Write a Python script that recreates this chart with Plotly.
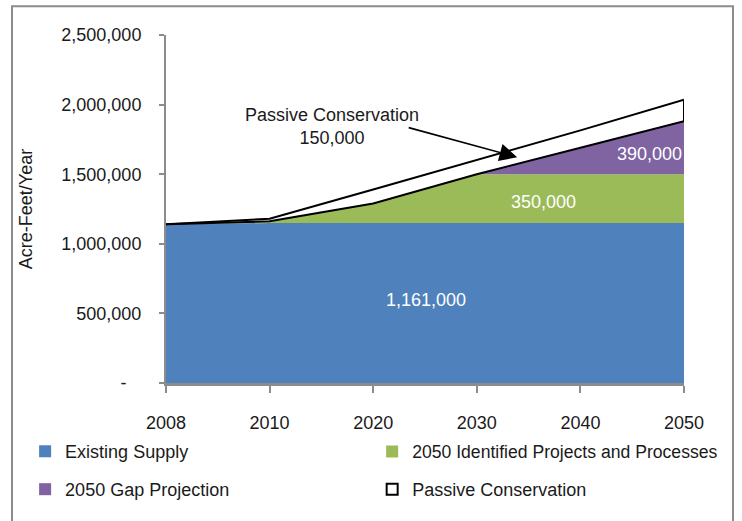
import plotly.graph_objects as go

years = ["2008", "2010", "2020", "2030", "2040", "2050"]
existing_supply = [1140000, 1150000, 1150000, 1150000, 1150000, 1150000]
identified_projects = [0, 12000, 140000, 350000, 350000, 350000]
gap_projection = [0, 0, 0, 0, 190000, 380000]
passive_conservation = [0, 18000, 100000, 100000, 125000, 155000]

y_tick_vals = [0, 500000, 1000000, 1500000, 2000000, 2500000]
y_tick_text = ["-\u00a0\u00a0\u00a0", "500,000", "1,000,000", "1,500,000", "2,000,000", "2,500,000"]

label_existing = "1,161,000"
label_identified = "350,000"
label_gap = "390,000"
label_passive = "Passive Conservation<br>150,000"

BLUE = "#4F81BD"
GREEN = "#9BBB59"
PURPLE = "#8064A2"
AXIS_GRAY = "#8C8C8C"
TXT = "#1a1a1a"
FONT = "Liberation Sans, Arial, sans-serif"

fig = go.Figure()

fig.add_trace(go.Scatter(x=years, y=existing_supply, stackgroup="s", mode="lines",
                         line=dict(width=0, color=BLUE), fillcolor=BLUE,
                         showlegend=False, hoverinfo="skip"))
fig.add_trace(go.Scatter(x=years, y=identified_projects, stackgroup="s", mode="lines",
                         line=dict(width=0, color=GREEN), fillcolor=GREEN,
                         showlegend=False, hoverinfo="skip"))
fig.add_trace(go.Scatter(x=years, y=gap_projection, stackgroup="s", mode="lines",
                         line=dict(width=2, color="black"), fillcolor=PURPLE,
                         showlegend=False, hoverinfo="skip"))
fig.add_trace(go.Scatter(x=years, y=passive_conservation, stackgroup="s", mode="lines",
                         line=dict(width=2, color="black"), fillcolor="white",
                         showlegend=False, hoverinfo="skip"))

# right edge of the passive conservation band
lower_top = existing_supply[-1] + identified_projects[-1] + gap_projection[-1]
upper_top = lower_top + passive_conservation[-1]
fig.add_trace(go.Scatter(x=[years[-1], years[-1]], y=[lower_top, upper_top], mode="lines",
                         line=dict(width=2, color="black"), showlegend=False, hoverinfo="skip"))

# legend entries
legend_specs = [
    ("Existing Supply", dict(symbol="square", color=BLUE, size=12), "legend"),
    ("2050 Identified Projects and Processes", dict(symbol="square", color=GREEN, size=12), "legend2"),
    ("2050 Gap Projection", dict(symbol="square", color=PURPLE, size=12), "legend3"),
    ("Passive Conservation", dict(symbol="square-open", color="black", size=11, line=dict(width=2)), "legend4"),
]
for name, mk, lg in legend_specs:
    fig.add_trace(go.Scatter(x=[None], y=[None], mode="markers", name=name, marker=mk,
                             legend=lg, showlegend=True))

def leg(x, y, size=18):
    return dict(font=dict(family=FONT, size=size, color=TXT), bgcolor="rgba(0,0,0,0)",
                xanchor="left", yanchor="middle", orientation="v", x=x, y=y)

fig.update_layout(
    legend=leg(-0.272, -0.197),
    legend2=leg(0.398, -0.197, 17.6),
    legend3=leg(-0.272, -0.306),
    legend4=leg(0.398, -0.306),
)

# annotations (data labels)
ann_font = dict(family=FONT, size=18, color="white")
fig.add_annotation(x=2.507, y=597000, xref="x", yref="y", text=label_existing,
                   showarrow=False, font=ann_font)
fig.add_annotation(x=3.64, y=1303000, xref="x", yref="y", text=label_identified,
                   showarrow=False, font=ann_font)
fig.add_annotation(x=4.665, y=1645000, xref="x", yref="y", text=label_gap,
                   showarrow=False, font=ann_font)
fig.add_annotation(x=1.602, y=1842000, xref="x", yref="y", text=label_passive,
                   showarrow=False, font=dict(family=FONT, size=18, color=TXT))
fig.add_annotation(x=3.39, y=1622000, xref="x", yref="y", text="",
                   showarrow=True, arrowhead=2, arrowsize=2.2, arrowwidth=1.6,
                   arrowcolor="black", ax=-110, ay=-30, standoff=0, startstandoff=0)

# outer frame
fig.add_shape(type="rect", xref="paper", yref="paper",
              x0=-0.2973, x1=1.0946, y0=-0.6, y1=1.0826,
              line=dict(color=AXIS_GRAY, width=2), fillcolor="rgba(0,0,0,0)", layer="above")

fig.update_layout(
    width=742, height=521,
    margin=dict(l=166, r=58, t=35, b=138),
    paper_bgcolor="white", plot_bgcolor="white",
    font=dict(family=FONT, size=18, color=TXT),
    xaxis=dict(type="category", range=[0, 5], showgrid=False, zeroline=False,
               showline=True, linecolor=AXIS_GRAY, linewidth=2.5,
               ticks="outside", ticklen=7, tickwidth=2, tickcolor=AXIS_GRAY,
               ticklabelstandoff=15,
               tickfont=dict(family=FONT, size=18, color=TXT)),
    yaxis=dict(range=[0, 2500000], showgrid=False, zeroline=False,
               showline=True, linecolor=AXIS_GRAY, linewidth=2,
               ticks="outside", ticklen=5, tickwidth=2, tickcolor=AXIS_GRAY,
               tickvals=y_tick_vals, ticktext=y_tick_text,
               ticklabelstandoff=14,
               tickfont=dict(family=FONT, size=18, color=TXT),
               title=dict(text="Acre-Feet/Year", standoff=24,
                          font=dict(family=FONT, size=18, color=TXT))),
)

fig.write_html("out.html", config={"displayModeBar": False},
               post_script="document.body.style.margin='0';document.body.style.overflow='hidden';")
